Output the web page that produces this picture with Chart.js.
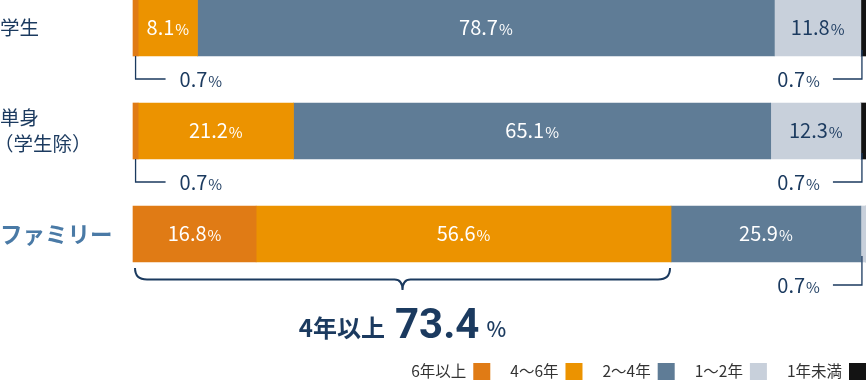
<!DOCTYPE html>
<html>
<head>
<meta charset="utf-8">
<script src="https://cdn.jsdelivr.net/npm/chart.js@4/dist/chart.umd.min.js"></script>
<style>
  html, body { margin: 0; padding: 0; background: #fff; }
  canvas { display: block; }
</style>
</head>
<body>
<canvas id="chart" width="866" height="380"></canvas>
<script>
// ── Data ──
const categories = [['学生'], ['単身', '（学生除）'], ['ファミリー']];
const seriesNames = ['6年以上', '4〜6年', '2〜4年', '1〜2年', '1年未満'];
const over6   = [0.7, 0.7, 16.8];
const y4to6   = [8.1, 21.2, 56.6];
const y2to4   = [78.7, 65.1, 25.9];
const y1to2   = [11.8, 12.3, 0.7];
const under1  = [0.7, 0.7, 0];
const seriesColors = ['#e07b15', '#ec9300', '#5f7c96', '#c8d0db', '#131313'];
const labelColors  = ['#ffffff', '#ffffff', '#ffffff', '#1b3a5f', '#ffffff'];

const NAVY = '#1b3a5f';
const JP = '"Noto Sans CJK JP", "Noto Sans", sans-serif';

// draw "12.3" + smaller "%" ; align: 'center' | 'left' | 'right'
function drawPct(ctx, value, x, y, color, align) {
  const num = value.toFixed(1);
  ctx.font = '20px ' + JP;
  const wn = ctx.measureText(num).width;
  ctx.font = '15px ' + JP;
  const wp = ctx.measureText('%').width;
  const w = wn + wp + 1;
  let x0 = align === 'left' ? x : align === 'right' ? x - w : x - w / 2;
  ctx.fillStyle = color;
  ctx.textAlign = 'left';
  ctx.textBaseline = 'alphabetic';
  ctx.font = '20px ' + JP;
  ctx.fillText(num, x0, y + 7);
  ctx.font = '15px ' + JP;
  ctx.fillText('%', x0 + wn + 1, y + 7);
}

// ── Annotation plugin ──
const annotations = {
  id: 'annotations',
  afterDatasetsDraw(chart) {
    const ctx = chart.ctx;
    const yScale = chart.scales.y;
    ctx.save();

    // category labels
    categories.forEach((lines, i) => {
      const cy = yScale.getPixelForValue(i);
      ctx.textAlign = 'left';
      ctx.textBaseline = 'middle';
      if (i === 2) {
        ctx.font = 'bold 22.5px ' + JP;
        ctx.fillStyle = '#4a7aa6';
        ctx.fillText(lines[0], 0, cy);
      } else {
        ctx.font = '19.5px ' + JP;
        ctx.fillStyle = NAVY;
        const lh = 26;
        lines.forEach((t, k) => {
          const ty = cy + (k - (lines.length - 1) / 2) * lh;
          ctx.fillText(t, k > 0 ? -6 : 0, ty);
        });
      }
    });

    // value labels + callouts
    chart.data.datasets.forEach((ds, di) => {
      const meta = chart.getDatasetMeta(di);
      meta.data.forEach((bar, j) => {
        const v = ds.data[j];
        if (!v) return;
        const left = Math.min(bar.x, bar.base), right = Math.max(bar.x, bar.base);
        const cx = (left + right) / 2;
        const bottom = bar.y + bar.height / 2;
        if (v >= 3) {
          drawPct(ctx, v, cx, bar.y, labelColors[di], 'center');
        } else {
          ctx.strokeStyle = NAVY;
          ctx.lineWidth = 1.3;
          const ly = bottom + 23;
          ctx.beginPath();
          if (cx < chart.chartArea.left + chart.chartArea.width / 2) {
            ctx.moveTo(cx, bottom);
            ctx.lineTo(cx, ly);
            ctx.lineTo(cx + 30, ly);
            ctx.stroke();
            drawPct(ctx, v, cx + 44, ly + 1, NAVY, 'left');
          } else {
            const vx = cx - 1.5;
            ctx.moveTo(vx, bottom - 6);
            ctx.lineTo(vx, ly);
            ctx.lineTo(vx - 29, ly);
            ctx.stroke();
            drawPct(ctx, v, vx - 42, ly + 1, NAVY, 'right');
          }
        }
      });
    });

    // brace under family 6年以上 + 4〜6年
    const b0 = chart.getDatasetMeta(0).data[2];
    const b1 = chart.getDatasetMeta(1).data[2];
    const bl = Math.min(b0.x, b0.base) + 2;
    const br = Math.max(b1.x, b1.base) - 1;
    const top = b0.y + b0.height / 2 + 6;
    const lineY = top + 11.5;
    const tipY = lineY + 10.5;
    const mid = (bl + br) / 2;
    ctx.strokeStyle = NAVY;
    ctx.lineWidth = 2;
    ctx.beginPath();
    ctx.moveTo(bl, top);
    ctx.quadraticCurveTo(bl, lineY, bl + 12, lineY);
    ctx.lineTo(mid - 8, lineY);
    ctx.quadraticCurveTo(mid, lineY, mid, tipY);
    ctx.quadraticCurveTo(mid, lineY, mid + 8, lineY);
    ctx.lineTo(br - 12, lineY);
    ctx.quadraticCurveTo(br, lineY, br, top);
    ctx.stroke();

    // total text
    const total = (over6[2] + y4to6[2]).toFixed(1);
    const baseY = 337;
    ctx.textBaseline = 'alphabetic';
    ctx.textAlign = 'left';
    ctx.font = 'bold 24px ' + JP;
    const w1 = ctx.measureText('4年以上').width;
    ctx.font = 'bold 42px Roboto, ' + JP;
    const w2 = ctx.measureText(total).width;
    ctx.font = '500 21px ' + JP;
    const w3 = ctx.measureText('%').width;
    const tw = w1 + 10 + w2 + 7 + w3;
    let tx = mid - tw / 2;
    ctx.fillStyle = NAVY;
    ctx.font = 'bold 24px ' + JP;
    ctx.fillText('4年以上', tx, baseY);
    tx += w1 + 10;
    ctx.font = 'bold 42px Roboto, ' + JP;
    ctx.fillText(total, tx, baseY + 1);
    tx += w2 + 7;
    ctx.font = '500 21px ' + JP;
    ctx.fillText('%', tx, baseY);

    // legend (text then box), right aligned
    ctx.font = '15.5px ' + JP;
    ctx.textBaseline = 'middle';
    ctx.textAlign = 'right';
    let x = chart.width;
    const ly = 371.5;
    for (let k = seriesNames.length - 1; k >= 0; k--) {
      ctx.fillStyle = seriesColors[k];
      ctx.fillRect(x - 17, ly - 8.5, 17, 17);
      ctx.fillStyle = '#333333';
      const tr = x - 17 - 7;
      ctx.fillText(seriesNames[k], tr, ly);
      x = tr - ctx.measureText(seriesNames[k]).width - 20;
    }
    ctx.restore();
  }
};

// ── Chart ──
const seriesData = [over6, y4to6, y2to4, y1to2, under1];
new Chart(document.getElementById('chart').getContext('2d'), {
  type: 'bar',
  data: {
    labels: categories.map(c => c.join('')),
    datasets: seriesNames.map((name, i) => ({
      label: name,
      data: seriesData[i],
      backgroundColor: seriesColors[i],
      borderWidth: 0,
      barThickness: 56,
      clip: false
    }))
  },
  options: {
    indexAxis: 'y',
    responsive: false,
    animation: false,
    layout: { padding: { left: 133, right: 0, top: 28, bottom: 146 } },
    plugins: { legend: { display: false }, tooltip: { enabled: false } },
    scales: {
      x: { stacked: true, min: 0, max: 100, display: false },
      y: { stacked: true, offset: false, display: false }
    }
  },
  plugins: [annotations]
});
</script>
</body>
</html>
